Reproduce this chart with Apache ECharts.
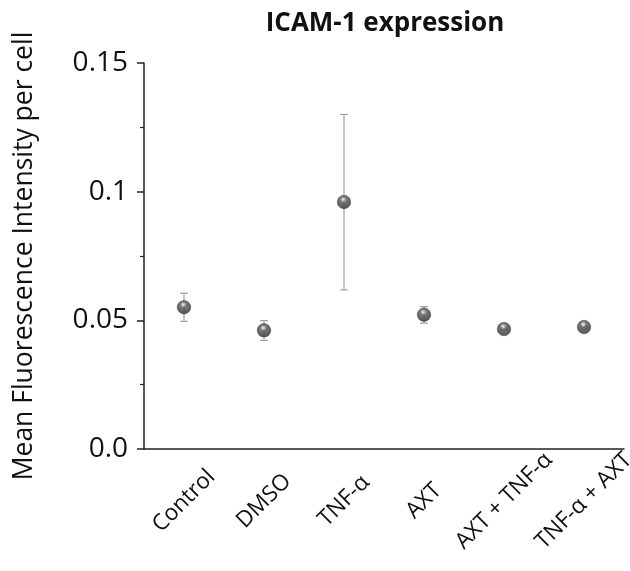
<!DOCTYPE html>
<html><head><meta charset="utf-8">
<script src="https://cdn.jsdelivr.net/npm/echarts@6/dist/echarts.min.js"></script>
<style>html,body{margin:0;padding:0;background:#fff}#c{width:630px;height:571px}</style>
</head><body><div id="c"></div>
<script>
const categories = ['Control', 'DMSO', 'TNF-\u03b1', 'AXT', 'AXT + TNF-\u03b1', 'TNF-\u03b1 + AXT'];
const means = [0.0551, 0.0461, 0.0960, 0.0522, 0.0466, 0.0474];
const errLow = [0.0496, 0.0422, 0.0618, 0.0489, 0.0462, 0.0470];
const errHigh = [0.0605, 0.0499, 0.1300, 0.0553, 0.0470, 0.0478];
const yTickLabels = {0: '0.0', 0.05: '0.05', 0.1: '0.1', 0.15: '0.15'};

const chart = echarts.init(document.getElementById('c'));
const font = '"Open Sans", "DejaVu Sans", sans-serif';
chart.setOption({
  animation: false,
  title: {
    text: 'ICAM-1 expression', left: 380, top: 6, textAlign: 'center',
    textStyle: {fontFamily: font, fontWeight: 'bold', fontSize: 26, color: '#111'}
  },
  grid: {left: 144, right: 6, top: 63, bottom: 122, containLabel: false, outerBoundsMode: 'none'},
  xAxis: {
    type: 'category', data: categories, boundaryGap: true,
    axisLine: {lineStyle: {color: '#222', width: 1.5}},
    axisTick: {alignWithLabel: true, length: 6, lineStyle: {color: '#222', width: 1.5}},
    axisLabel: {rotate: 45, fontFamily: font, fontSize: 22.5, color: '#111', margin: 52, interval: 0,
      align: 'center', verticalAlign: 'middle', hideOverlap: false}
  },
  yAxis: {
    type: 'value', min: 0, max: 0.15, interval: 0.05,
    name: 'Mean Fluorescence Intensity per cell', nameLocation: 'middle', nameGap: 106,
    nameTextStyle: {fontFamily: font, fontSize: 26.5, color: '#111'},
    axisLine: {show: true, lineStyle: {color: '#222', width: 1.5}},
    axisTick: {show: true, length: 7, lineStyle: {color: '#222', width: 1.5}},
    minorTick: {show: true, splitNumber: 2, length: 4, lineStyle: {color: '#222', width: 1.2}},
    splitLine: {show: false},
    axisLabel: {fontFamily: font, fontSize: 28, color: '#111', margin: 16,
      formatter: v => yTickLabels[Math.round(v * 100) / 100] ?? ''}
  },
  series: [
    {
      type: 'custom',
      data: categories.map((c, i) => [i, errLow[i], errHigh[i]]),
      renderItem: (params, api) => {
        const lo = api.coord([api.value(0), api.value(1)]);
        const hi = api.coord([api.value(0), api.value(2)]);
        const w = 4;
        const st = {stroke: '#a0a0a0', lineWidth: 1.2};
        return {type: 'group', children: [
          {type: 'line', shape: {x1: lo[0], y1: lo[1], x2: hi[0], y2: hi[1]}, style: st},
          {type: 'line', shape: {x1: lo[0]-w, y1: lo[1], x2: lo[0]+w, y2: lo[1]}, style: st},
          {type: 'line', shape: {x1: hi[0]-w, y1: hi[1], x2: hi[0]+w, y2: hi[1]}, style: st}
        ]};
      },
      z: 1
    },
    {
      type: 'scatter', data: means, symbol: 'circle', symbolSize: 13.5, z: 3,
      itemStyle: {
        color: new echarts.graphic.RadialGradient(0.45, 0.32, 0.72, [
          {offset: 0, color: '#f4f4f4'},
          {offset: 0.12, color: '#bdbdbd'},
          {offset: 0.3, color: '#555555'},
          {offset: 0.7, color: '#3a3a3a'},
          {offset: 1, color: '#262626'}
        ]),
        borderColor: '#2a2a2a', borderWidth: 0.5
      }
    }
  ]
});
</script></body></html>
